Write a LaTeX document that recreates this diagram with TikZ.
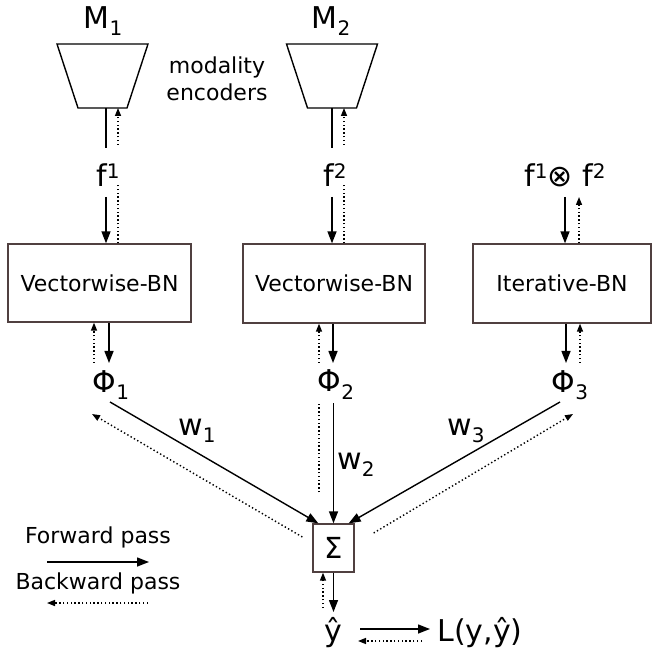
\documentclass[tikz,border=0pt]{standalone}
\usepackage{fontspec}
\setmainfont{DejaVu Sans}
\usetikzlibrary{arrows.meta}
\newcommand{\sbs}[1]{\raisebox{-7pt}{\fontsize{20}{20}\selectfont #1}}
\newcommand{\sps}[1]{\raisebox{8pt}{\fontsize{20}{20}\selectfont #1}}
\definecolor{boxc}{RGB}{80,64,64}
\begin{document}
\begin{tikzpicture}[x=1pt,y=1pt,
  lbl/.style={inner sep=0,anchor=base,font=\fontsize{30}{32}\selectfont},
  txt/.style={inner sep=0,anchor=base,font=\fontsize{22}{27}\selectfont},
  bnbox/.style={draw=boxc,line width=1.3pt,minimum height=78,inner sep=0,font=\fontsize{22}{26}\selectfont},
  sumbox/.style={draw=boxc,line width=1.3pt,minimum width=41,minimum height=48,inner sep=0,font=\fontsize{29}{30}\selectfont},
  fw/.style={line width=1.4pt,-{Triangle[length=12pt,width=9pt]}},
  bw/.style={line width=1.4pt,dash pattern=on 1.4pt off 2.4pt,-{Triangle[length=8pt,width=6pt]}},
  enc/.style={draw,line width=1.4pt,line join=miter}]
\useasboundingbox (0,0) rectangle (652,648);

% encoders
\coordinate (m1) at (102.5,572);
\coordinate (m2) at (332,572);
\draw[enc] (m1) ++(-45.5,32) -- ++(91,0) -- ++(-21,-64) -- ++(-49,0) -- cycle;
\draw[enc] (m2) ++(-45.5,32) -- ++(91,0) -- ++(-21,-64) -- ++(-49,0) -- cycle;

% nodes
\node[lbl] (M1) at (103,619) {M\sbs{1}};
\node[lbl] (M2) at (331,619) {M\sbs{2}};
\node[txt,anchor=center,align=center] (me) at (217,569) {modality\\encoders};
\node[lbl] (f1) at (108,461) {f\sps{1}};
\node[lbl] (f2) at (335,461) {f\sps{2}};
\node[lbl] (f12) at (565,461) {f\sps{1}⊗ f\sps{2}};
\node[bnbox,minimum width=183] (b1) at (99.5,365) {Vectorwise-BN};
\node[bnbox,minimum width=182,minimum height=79] (b2) at (334,364.5) {Vectorwise-BN};
\node[bnbox,minimum width=178,minimum height=79] (b3) at (562,364.5) {Iterative-BN};
\node[lbl] (p1) at (111,255) {Φ\sbs{1}};
\node[lbl] (p2) at (336,256) {Φ\sbs{2}};
\node[lbl] (p3) at (570,255) {Φ\sbs{3}};
\node[lbl] (w1) at (197,213) {w\sbs{1}};
\node[lbl] (w2) at (356,179) {w\sbs{2}};
\node[lbl] (w3) at (466,213) {w\sbs{3}};
\node[sumbox] (sig) at (333.5,100) {Σ};
\node[lbl] (yh) at (333.5,7) {ŷ};
\node[lbl] (L) at (480,7) {L(y,ŷ)};
\node[txt] (fp) at (98,105) {Forward pass};
\node[txt] (bp) at (98,59) {Backward pass};

% M1 branch
\draw[fw,-] ([xshift=3.5,yshift=-32]m1) -- ([xshift=-2,yshift=39]f1.base);
\draw[bw] ([xshift=10,yshift=42]f1.base) -- ([xshift=15.5,yshift=-32]m1);
\draw[fw] ([xshift=-2,yshift=-10]f1.base) -- ([xshift=6.5]b1.north);
\draw[bw,-] ([xshift=18.5]b1.north) -- ([xshift=10,yshift=2]f1.base);
% M2 branch
\draw[fw,-] ([yshift=-32]m2) -- ([xshift=-3,yshift=39]f2.base);
\draw[bw] ([xshift=9,yshift=42]f2.base) -- ([xshift=12,yshift=-32]m2);
\draw[fw] ([xshift=-3,yshift=-10]f2.base) -- ([xshift=-2]b2.north);
\draw[bw,-] ([xshift=10]b2.north) -- ([xshift=9,yshift=2]f2.base);
% f1 x f2 branch
\draw[fw] ([yshift=-10]f12.base) -- ([xshift=3]b3.north);
\draw[bw] ([xshift=17]b3.north) -- ([xshift=14,yshift=-10]f12.base);

% below boxes
\draw[bw] ([xshift=-17,yshift=30]p1.base) -- ([xshift=-5.5]b1.south);
\draw[fw] ([xshift=9.5]b1.south) -- ([xshift=-2,yshift=30]p1.base);
\draw[bw] ([xshift=-17,yshift=29]p2.base) -- ([xshift=-15]b2.south);
\draw[fw] ([xshift=-1]b2.south) -- ([xshift=-3,yshift=29]p2.base);
\draw[fw] ([xshift=4]b3.south) -- ([xshift=-4,yshift=30]p3.base);
\draw[bw] ([xshift=10,yshift=30]p3.base) -- ([xshift=18]b3.south);

% to sum
\draw[fw] ([xshift=-1,yshift=-9]p1.base) -- ([xshift=6]sig.north west);
\draw[bw] ([xshift=-10,yshift=11]sig.west) -- ([xshift=-19,yshift=-21]p1.base);
\draw[fw] ([xshift=-2.5,yshift=-11]p2.base) -- (sig.north);
\draw[bw,-] ([xshift=-14.5,yshift=31]sig.north) -- ([xshift=-17,yshift=-10]p2.base);
\draw[fw] ([xshift=-10,yshift=-9]p3.base) -- ([xshift=-6]sig.north east);
\draw[bw] ([xshift=19,yshift=15]sig.east) -- ([xshift=3,yshift=-21]p3.base);

% output
\draw[fw] (sig.south) -- ([yshift=29]yh.base);
\draw[bw] ([xshift=-10.5,yshift=33]yh.base) -- ([xshift=-10.5]sig.south);
\draw[fw] ([xshift=26.5,yshift=12]yh.base) -- ([xshift=-50,yshift=12]L.base);
\draw[bw] ([xshift=-58]L.base) -- ([xshift=24.5]yh.base);

% legend
\draw[fw] ([xshift=-51,yshift=-19]fp.base) -- ([xshift=51,yshift=-19]fp.base);
\draw[bw] ([xshift=50,yshift=-14]bp.base) -- ([xshift=-51,yshift=-14]bp.base);
\end{tikzpicture}
\end{document}
